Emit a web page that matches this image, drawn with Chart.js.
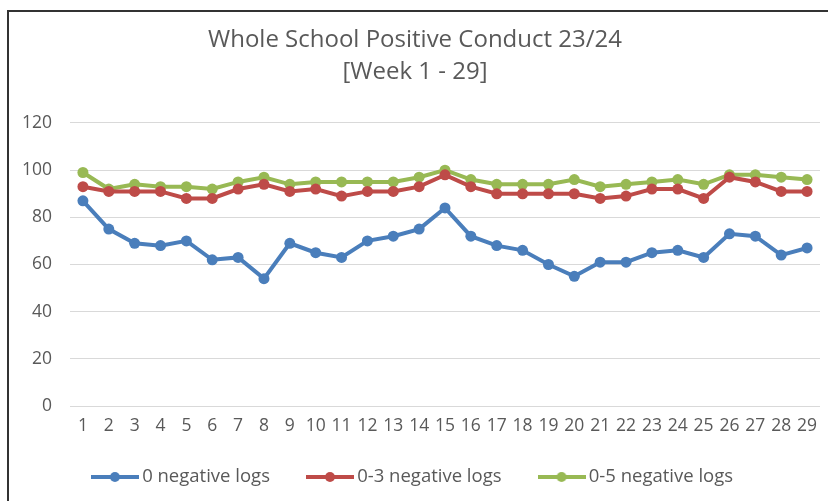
<!DOCTYPE html>
<html>
<head>
<meta charset="utf-8">
<script src="https://cdn.jsdelivr.net/npm/chart.js@4/dist/chart.umd.min.js"></script>
<style>
  html, body { margin: 0; padding: 0; background: #fff; }
  #wrap { position: relative; width: 828px; height: 501px; }
  #frame { position: absolute; left: 7px; top: 10px; width: 821px; height: 491px;
           border-left: 2px solid #333; border-top: 2px solid #333; box-sizing: border-box; pointer-events: none; }
  canvas { position: absolute; left: 0; top: 0; }
</style>
</head>
<body>
<div id="wrap">
  <canvas id="conductChart" width="828" height="501"></canvas>
  <div id="frame"></div>
</div>
<script>
// ========================
// DATA
// ========================
const weeks = [];
for (let i = 1; i <= 29; i++) weeks.push(String(i));

const zeroNegative = [87, 75, 69, 68, 70, 62, 63, 54, 69, 65, 63, 70, 72, 75, 84, 72, 68, 66, 60, 55, 61, 61, 65, 66, 63, 73, 72, 64, 67];
const upToThreeNegative = [93, 91, 91, 91, 88, 88, 92, 94, 91, 92, 89, 91, 91, 93, 98, 93, 90, 90, 90, 90, 88, 89, 92, 92, 88, 97, 95, 91, 91];
const upToFiveNegative = [99, 92, 94, 93, 93, 92, 95, 97, 94, 95, 95, 95, 95, 97, 100, 96, 94, 94, 94, 96, 93, 94, 95, 96, 94, 98, 98, 97, 96];

const seriesNames = ['0 negative logs', '0-3 negative logs', '0-5 negative logs'];
const yTicks = [0, 20, 40, 60, 80, 100, 120];

const BLUE = '#4a7ebb';
const RED = '#be4b48';
const GREEN = '#98b954';
const TEXT = '#595959';
const FONT = 'Open Sans';

const LEGEND_PAD = 42;
const LEGEND_FONT = 18.5;
const LEGEND_BOX_H = 58;   // space reserved under the x axis
const LEGEND_TEXT_Y = 477; // centre line of the legend text

// legend swatch: line with a dot, like Excel
function legendSwatch(color) {
  const c = document.createElement('canvas');
  c.width = 48; c.height = 12;
  const g = c.getContext('2d');
  g.strokeStyle = color;
  g.lineWidth = 4;
  g.beginPath(); g.moveTo(0, 6); g.lineTo(48, 6); g.stroke();
  g.fillStyle = color;
  g.beginPath(); g.arc(24, 6, 5, 0, Math.PI * 2); g.fill();
  return c;
}

function makeSet(label, data, color) {
  return {
    label: label,
    data: data,
    borderColor: color,
    backgroundColor: color,
    borderWidth: 4,
    pointRadius: 5.5,
    pointBorderWidth: 0,
    pointBackgroundColor: color,
    tension: 0
  };
}

// keep the legend compact vertically but wide apart horizontally
const legendPlacer = {
  id: 'legendPlacer',
  beforeInit(chart) {
    const lg = chart.legend;
    const fit = lg.fit;
    lg.fit = function () {
      fit.call(this);
      this.height = LEGEND_BOX_H;
    };
  },
  afterLayout(chart) {
    const lg = chart.legend;
    lg.top = LEGEND_TEXT_Y - LEGEND_PAD - LEGEND_FONT / 2;
    lg.bottom = chart.height;
  }
};

// ========================
// CHART
// ========================
const ctx = document.getElementById('conductChart').getContext('2d');
new Chart(ctx, {
  type: 'line',
  data: {
    labels: weeks,
    datasets: [
      makeSet(seriesNames[0], zeroNegative, BLUE),
      makeSet(seriesNames[1], upToThreeNegative, RED),
      makeSet(seriesNames[2], upToFiveNegative, GREEN)
    ]
  },
  options: {
    responsive: false,
    animation: false,
    layout: { padding: { left: 10, right: 8, top: 24, bottom: 4 } },
    plugins: {
      title: {
        display: true,
        text: ['Whole School Positive Conduct 23/24', '[Week 1 - 29]'],
        color: TEXT,
        font: { family: FONT, size: 24, weight: 'normal', lineHeight: 1.333 },
        padding: { top: 0, bottom: 35 }
      },
      legend: {
        position: 'bottom',
        labels: {
          color: TEXT,
          font: { family: FONT, size: LEGEND_FONT },
          padding: LEGEND_PAD,
          boxHeight: 12,
          usePointStyle: true,
          pointStyleWidth: 36,
          generateLabels: (chart) => chart.data.datasets.map((ds, i) => ({
            text: ds.label,
            fontColor: TEXT,
            pointStyle: legendSwatch(ds.borderColor),
            datasetIndex: i,
            lineWidth: 0,
            strokeStyle: 'transparent',
            fillStyle: 'transparent'
          }))
        }
      },
      tooltip: { enabled: false }
    },
    scales: {
      x: {
        offset: true,
        grid: { display: false },
        border: { display: false },
        ticks: { color: TEXT, font: { family: FONT, size: 17.5 }, maxRotation: 0, autoSkip: false, padding: 2 }
      },
      y: {
        min: 0,
        max: 120,
        afterBuildTicks: (axis) => { axis.ticks = yTicks.map(v => ({ value: v })); },
        afterFit: (axis) => { axis.width = 60; },
        grid: { color: '#d9d9d9', lineWidth: 1, drawTicks: false },
        border: { display: false },
        ticks: { color: TEXT, font: { family: FONT, size: 17.5 }, padding: 18 }
      }
    }
  },
  plugins: [legendPlacer]
});
</script>
</body>
</html>
